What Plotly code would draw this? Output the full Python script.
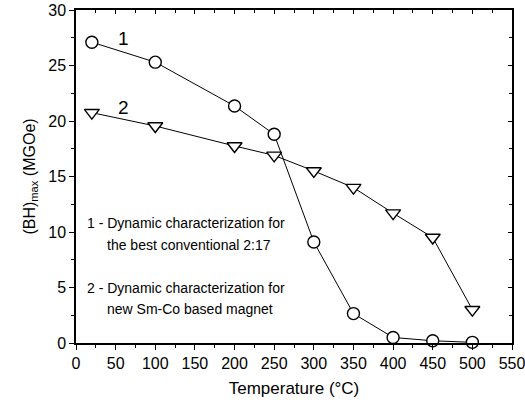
import plotly.graph_objects as go

temps = [20, 100, 200, 250, 300, 350, 400, 450, 500]
bh_conventional = [27.1, 25.3, 21.35, 18.8, 9.1, 2.65, 0.5, 0.2, 0.06]
bh_new = [20.75, 19.55, 17.75, 16.9, 15.5, 14.0, 11.7, 9.5, 3.0]

FAM = "Liberation Sans, Arial, sans-serif"

fig = go.Figure()
fig.add_trace(go.Scatter(x=temps, y=bh_conventional, mode="lines+markers",
                         line=dict(color="black", width=1),
                         marker=dict(symbol="circle", size=12, color="white", line=dict(width=1.4, color="black")),
                         cliponaxis=False, showlegend=False))
fig.add_trace(go.Scatter(x=temps, y=bh_new, mode="lines+markers",
                         line=dict(color="black", width=1),
                         marker=dict(symbol="triangle-down", size=13, color="white", line=dict(width=1.4, color="black")),
                         cliponaxis=False, showlegend=False))
# dummy trace to host the mirrored (top/right) axes with inside ticks
fig.add_trace(go.Scatter(x=[None], y=[None], xaxis="x2", yaxis="y2", showlegend=False, hoverinfo="skip"))

font = dict(family=FAM, size=16, color="black")
axcommon = dict(showgrid=False, zeroline=False, showline=True, linecolor="black", linewidth=1.5,
                ticks="outside", ticklen=5, tickcolor="black", tickwidth=1.2,
                automargin=False, ticklabeloverflow="allow",
                tickfont=dict(family=FAM, size=16, color="black"))
fig.update_layout(
    xaxis=dict(range=[0, 550], dtick=50,
               minor=dict(dtick=25, ticks="outside", ticklen=3, tickcolor="black", tickwidth=1.2),
               title=dict(text="Temperature (°C)", font=dict(family=FAM, size=17, color="black"), standoff=11),
               **axcommon),
    yaxis=dict(range=[0, 30], dtick=5,
               minor=dict(dtick=2.5, ticks="outside", ticklen=3, tickcolor="black", tickwidth=1.2),
               title=dict(text="(BH)<sub>max</sub> (MGOe)", font=dict(family=FAM, size=16, color="black"), standoff=9),
               **axcommon),
    xaxis2=dict(range=[0, 550], dtick=50, overlaying="x", side="top", anchor="y2",
                showgrid=False, zeroline=False, showline=True, linecolor="black", linewidth=1.5,
                ticks="inside", ticklen=4, tickcolor="black", tickwidth=1.2, showticklabels=False,
                minor=dict(dtick=25, ticks="inside", ticklen=3, tickcolor="black", tickwidth=1.2),
                automargin=False),
    yaxis2=dict(range=[0, 30], dtick=5, overlaying="y", side="right", anchor="x2",
                showgrid=False, zeroline=False, showline=True, linecolor="black", linewidth=1.5,
                ticks="inside", ticklen=4, tickcolor="black", tickwidth=1.2, showticklabels=False,
                minor=dict(dtick=2.5, ticks="inside", ticklen=3, tickcolor="black", tickwidth=1.2),
                automargin=False),
)

labels = [(60, 27.4, "1"), (60, 21.2, "2")]
for x, y, t in labels:
    fig.add_annotation(x=x, y=y, text=t, showarrow=False, font=dict(family=FAM, size=19, color="black"))

notes = [
    (10.85, 11, "1 - Dynamic characterization for"),
    (8.85, 36, "the best conventional 2:17"),
    (4.95, 11, "2 - Dynamic characterization for"),
    (3.1, 36, "new Sm-Co based magnet"),
]
for y, x, t in notes:
    fig.add_annotation(x=x, y=y, text=t, showarrow=False, xanchor="left",
                       font=dict(family=FAM, size=14, color="black"))

fig.update_layout(width=525, height=402, margin=dict(l=76, r=13, t=10, b=59),
                  paper_bgcolor="white", plot_bgcolor="white", font=font)
fig.write_html("out.html")
